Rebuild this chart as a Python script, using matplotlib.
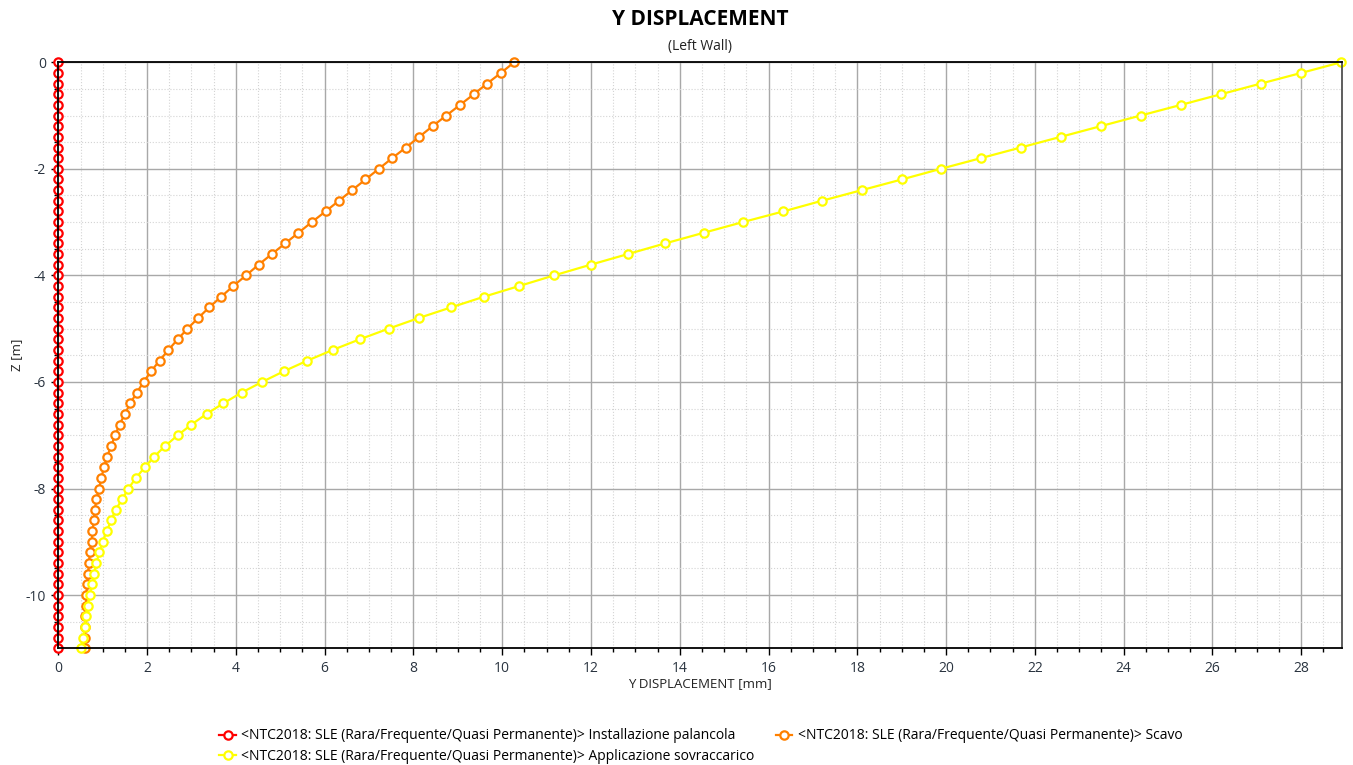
import matplotlib
matplotlib.use("Agg")
import matplotlib.pyplot as plt
from matplotlib.ticker import MultipleLocator

plt.rcParams['font.family'] = ['Open Sans', 'DejaVu Sans']
plt.rcParams['axes.unicode_minus'] = False

# depth of the wall nodes [m], 0 -> -11 every 0.2
depth = [-round(0.2 * i, 1) for i in range(56)]

# Y displacement [mm] for each phase
installazione = [0.0] * 56

scavo = [10.27, 9.97, 9.66, 9.36, 9.05, 8.74, 8.43, 8.13, 7.83, 7.52,
         7.22, 6.92, 6.62, 6.32, 6.02, 5.71, 5.41, 5.11, 4.81, 4.51,
         4.23, 3.94, 3.67, 3.40, 3.15, 2.91, 2.69, 2.48, 2.28, 2.09,
         1.92, 1.77, 1.62, 1.50, 1.38, 1.28, 1.19, 1.10, 1.03, 0.97,
         0.92, 0.86, 0.82, 0.80, 0.77, 0.75, 0.71, 0.69, 0.67, 0.65,
         0.63, 0.62, 0.61, 0.60, 0.59, 0.59]

sovraccarico = [28.90, 28.00, 27.09, 26.19, 25.29, 24.38, 23.48, 22.58, 21.68, 20.78,
                19.88, 19.00, 18.10, 17.20, 16.33, 15.42, 14.54, 13.67, 12.83, 11.99,
                11.17, 10.38, 9.59, 8.85, 8.12, 7.44, 6.79, 6.18, 5.61, 5.08,
                4.59, 4.13, 3.72, 3.34, 3.00, 2.69, 2.41, 2.16, 1.95, 1.75,
                1.58, 1.44, 1.29, 1.19, 1.09, 1.00, 0.92, 0.86, 0.81, 0.76,
                0.71, 0.66, 0.62, 0.59, 0.56, 0.51]

labels = [
    "<NTC2018: SLE (Rara/Frequente/Quasi Permanente)> Installazione palancola",
    "<NTC2018: SLE (Rara/Frequente/Quasi Permanente)> Scavo",
    "<NTC2018: SLE (Rara/Frequente/Quasi Permanente)> Applicazione sovraccarico",
]
colors = ["#ff0000", "#ff8000", "#ffff00"]

fig = plt.figure(figsize=(13.53, 7.65), dpi=100)
ax = fig.add_axes([0.0431, 0.1525, 0.9488, 0.7661])

handles = []
for xs, lab, col in zip([installazione, scavo, sovraccarico], labels, colors):
    h, = ax.plot(xs, depth, color=col, lw=1.6, marker='o', ms=6,
                 mfc='white', mec=col, mew=1.6, label=lab, clip_on=False, zorder=3)
    handles.append(h)

ax.set_xlim(0, 28.92)
ax.set_ylim(-11, 0)
ax.xaxis.set_major_locator(MultipleLocator(2))
ax.xaxis.set_minor_locator(MultipleLocator(0.5))
ax.yaxis.set_major_locator(MultipleLocator(2))
ax.yaxis.set_minor_locator(MultipleLocator(0.5))

ax.grid(which='major', color='#a8a8a8', lw=1.0, ls='-')
ax.grid(which='minor', color='#d4d4d4', lw=0.8, ls=':')
ax.set_axisbelow(True)

for s in ['left', 'top', 'bottom']:
    ax.spines[s].set_color('black')
    ax.spines[s].set_linewidth(1.3)
ax.spines['right'].set_color('#505050')
ax.spines['right'].set_linewidth(1.3)
for s in ax.spines.values():
    s.set_zorder(4)

ax.tick_params(which='major', length=5, width=1, color='black', labelsize=10,
               labelcolor='#2a3440', pad=4)
ax.tick_params(which='minor', length=3, width=1, color='black')

ax.set_xlabel("Y DISPLACEMENT [mm]", fontsize=9.5, color='#222222', labelpad=1)
ax.set_ylabel("Z [m]", fontsize=9.5, color='#222222', labelpad=2)

fig.text(0.5175, 0.975, "Y DISPLACEMENT", ha='center', va='center',
         fontsize=15, fontweight='bold', color='black')
fig.text(0.5175, 0.939, "(Left Wall)", ha='center', va='center',
         fontsize=10, color='#222222')

# legend rows: entry 1 + 2 on first row, entry 3 below
fig.legend([handles[0], handles[2], handles[1]],
           [labels[0], labels[2], labels[1]],
           ncol=2, loc='center', bbox_to_anchor=(0.518, 0.0245),
           frameon=False, fontsize=10, handlelength=1.2, handletextpad=0.4,
           columnspacing=1.5, labelspacing=0.4)

fig.savefig("out.png", dpi=100, facecolor='white')
